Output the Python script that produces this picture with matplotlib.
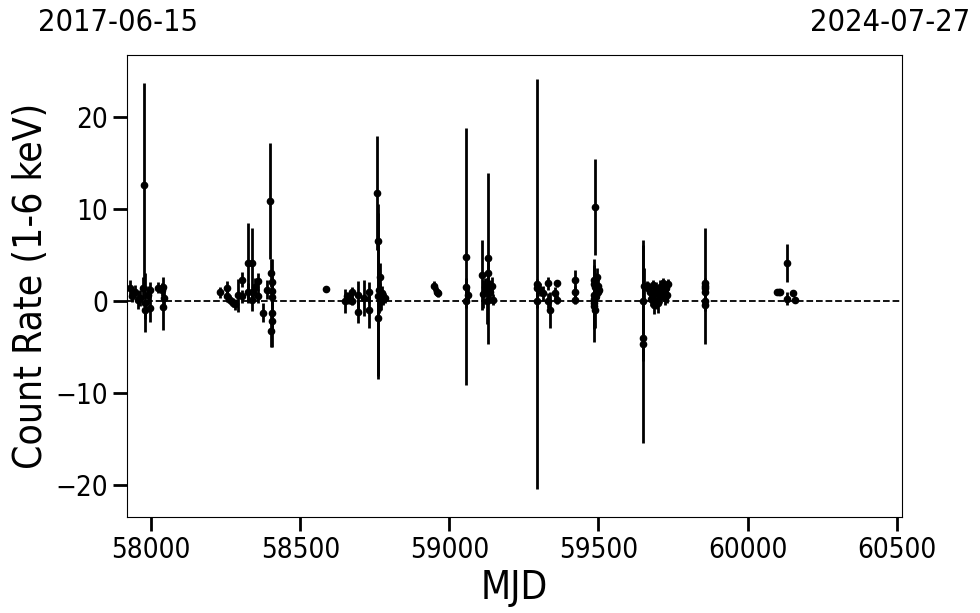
import matplotlib
matplotlib.use("Agg")
import matplotlib.pyplot as plt
import numpy as np

# light curve: MJD, count rate (1-6 keV), 1-sigma error
mjd = [
    57929, 57935, 57946, 57956, 57963, 57974, 57976, 57979, 57981, 57989,
    57996, 57996, 58023, 58036, 58040, 58040, 58042,
    58231, 58253, 58253, 58264, 58274, 58281, 58291, 58304, 58304, 58326,
    58337, 58326, 58337, 58342, 58348, 58359, 58359, 58376, 58387, 58399,
    58402, 58404, 58404, 58404, 58404, 58404, 58402,
    58586, 58650, 58656, 58663, 58674, 58674, 58695, 58695, 58714, 58732,
    58732, 58758, 58762, 58760, 58762, 58766, 58764, 58768, 58770, 58774,
    58778, 58784,
    58950, 58958, 58963,
    59055, 59055, 59063, 59055, 59110, 59113, 59129, 59131, 59126, 59135,
    59142, 59147, 59120,
    59295, 59295, 59295, 59304, 59315, 59332, 59332, 59338, 59354, 59360,
    59360, 59421, 59421, 59421,
    59488, 59484, 59486, 59490, 59494, 59498, 59500, 59484, 59486, 59484,
    59486, 59492, 59496, 59502, 59488,
    59650, 59650, 59650, 59653, 59663, 59667, 59673, 59677, 59683, 59688,
    59692, 59697, 59700, 59705, 59710, 59715, 59718, 59722, 59726, 59730,
    59734, 59685, 59702,
    59857, 59857, 59857, 59857, 59857, 59857,
    60099, 60104, 60109, 60131, 60131, 60151, 60159,
]
rate = [
    1.4, 0.5, 1.0, 0.1, 0.3, 1.4, 12.6, -0.2, -1.0, 0.6,
    1.2, -0.8, 1.4, 1.2, 1.5, -0.7, 0.3,
    0.9, 1.4, 0.5, 0.1, -0.2, -0.4, 0.6, 2.3, 0.5, 4.1,
    4.1, 0.9, 0.1, 0.9, 1.5, 2.1, 0.5, -1.3, 1.2, 10.8,
    3.0, 2.0, 1.1, 0.4, -1.3, -2.2, -3.3,
    1.3, 0.0, 0.5, 0.2, 0.9, 0.0, 0.6, -1.2, 0.3, 0.9,
    -1.0, 11.7, 6.5, 0.5, -1.9, 2.6, 1.2, 0.4, 0.0, 0.8,
    0.2, 0.3,
    1.6, 1.0, 0.8,
    4.8, 1.5, 0.6, 0.0, 2.8, 0.7, 4.6, 3.0, 0.0, 1.0,
    1.6, 0.1, 1.5,
    1.8, 1.4, 0.0, 1.2, 0.8, 1.9, 0.0, -1.0, 0.8, 1.9,
    0.1, 2.3, 0.9, 0.1,
    10.2, 2.3, 1.8, 1.5, 1.2, 1.6, 1.0, 0.6, 0.2, -0.3,
    -0.6, 0.5, 2.6, 1.2, -1.0,
    0.0, -4.0, -4.7, 1.6, 1.6, 1.4, 1.0, 0.2, 1.7, 0.7,
    1.2, 0.0, -0.3, 1.5, 0.5, 1.9, 1.0, 0.3, 1.4, 0.6,
    1.8, -0.5, 1.1,
    1.9, 1.4, 1.0, 1.6, 0.0, -0.5,
    0.9, 1.0, 1.0, 4.1, 0.2, 0.8, 0.1,
]
err = [
    0.8, 0.6, 0.7, 1.0, 0.9, 1.2, 11.1, 3.2, 1.0, 1.0,
    0.8, 1.5, 0.6, 0.7, 1.1, 2.5, 0.8,
    0.6, 0.7, 0.6, 0.5, 0.5, 0.6, 1.8, 0.8, 0.7, 4.3,
    3.8, 1.0, 1.2, 0.8, 1.0, 0.9, 0.8, 1.0, 1.0, 6.3,
    1.5, 2.5, 1.5, 1.0, 2.0, 2.8, 1.7,
    0.3, 1.3, 0.5, 0.6, 0.6, 0.5, 1.5, 1.2, 2.0, 1.1,
    2.0, 6.2, 4.0, 9.0, 6.3, 1.5, 2.5, 1.5, 1.0, 0.8,
    0.7, 0.5,
    0.5, 0.5, 0.4,
    14.0, 1.0, 0.8, 0.8, 3.8, 1.5, 9.3, 2.0, 2.5, 1.2,
    1.0, 0.6, 1.0,
    22.3, 1.0, 0.8, 0.7, 0.8, 0.7, 0.8, 2.0, 0.7, 0.4,
    0.5, 1.0, 0.7, 0.5,
    5.2, 2.2, 2.0, 1.5, 1.0, 0.8, 0.8, 2.5, 3.0, 4.2,
    2.5, 1.2, 1.0, 0.6, 2.0,
    6.6, 2.0, 10.8, 2.0, 0.5, 0.6, 0.8, 0.8, 0.6, 0.7,
    0.8, 0.9, 1.0, 0.7, 0.8, 0.6, 0.7, 0.8, 0.6, 0.8,
    0.6, 0.9, 0.6,
    0.6, 0.5, 0.6, 6.3, 0.5, 0.6,
    0.1, 0.1, 0.1, 2.1, 0.7, 0.3, 0.2,
]

mjd_start, mjd_end = 57919, 60518
date_start, date_end = "2017-06-15", "2024-07-27"

fig = plt.figure(figsize=(9.8, 6.13), dpi=100)
ax = fig.add_axes([0.1296, 0.1566, 0.7908, 0.7537])

ax.errorbar(mjd, rate, yerr=err, fmt="o", color="black", ms=4.5, elinewidth=2)
ax.axhline(0, color="black", ls="--", lw=1.3)

ax.set_xlim(mjd_start, mjd_end)
ax.set_ylim(-23.5, 26.7)
ax.set_xticks([58000, 58500, 59000, 59500, 60000, 60500])
ax.set_yticks([-20, -10, 0, 10, 20])
ax.tick_params(axis="both", which="major", length=10, width=2, labelsize=20)
for lab in ax.get_xticklabels() + ax.get_yticklabels():
    lab.set_fontstretch("condensed")

ax.set_xlabel("MJD", fontsize=28, fontstretch="condensed")
ax.set_ylabel("Count Rate (1-6 keV)", fontsize=28, fontstretch="condensed")

# start / end dates of the monitoring window
fig.text(118 / 980, 0.964, date_start, ha="center", va="center",
         fontsize=22, fontstretch="condensed")
fig.text(890 / 980, 0.964, date_end, ha="center", va="center",
         fontsize=22, fontstretch="condensed")

fig.savefig("out.png", dpi=100)
